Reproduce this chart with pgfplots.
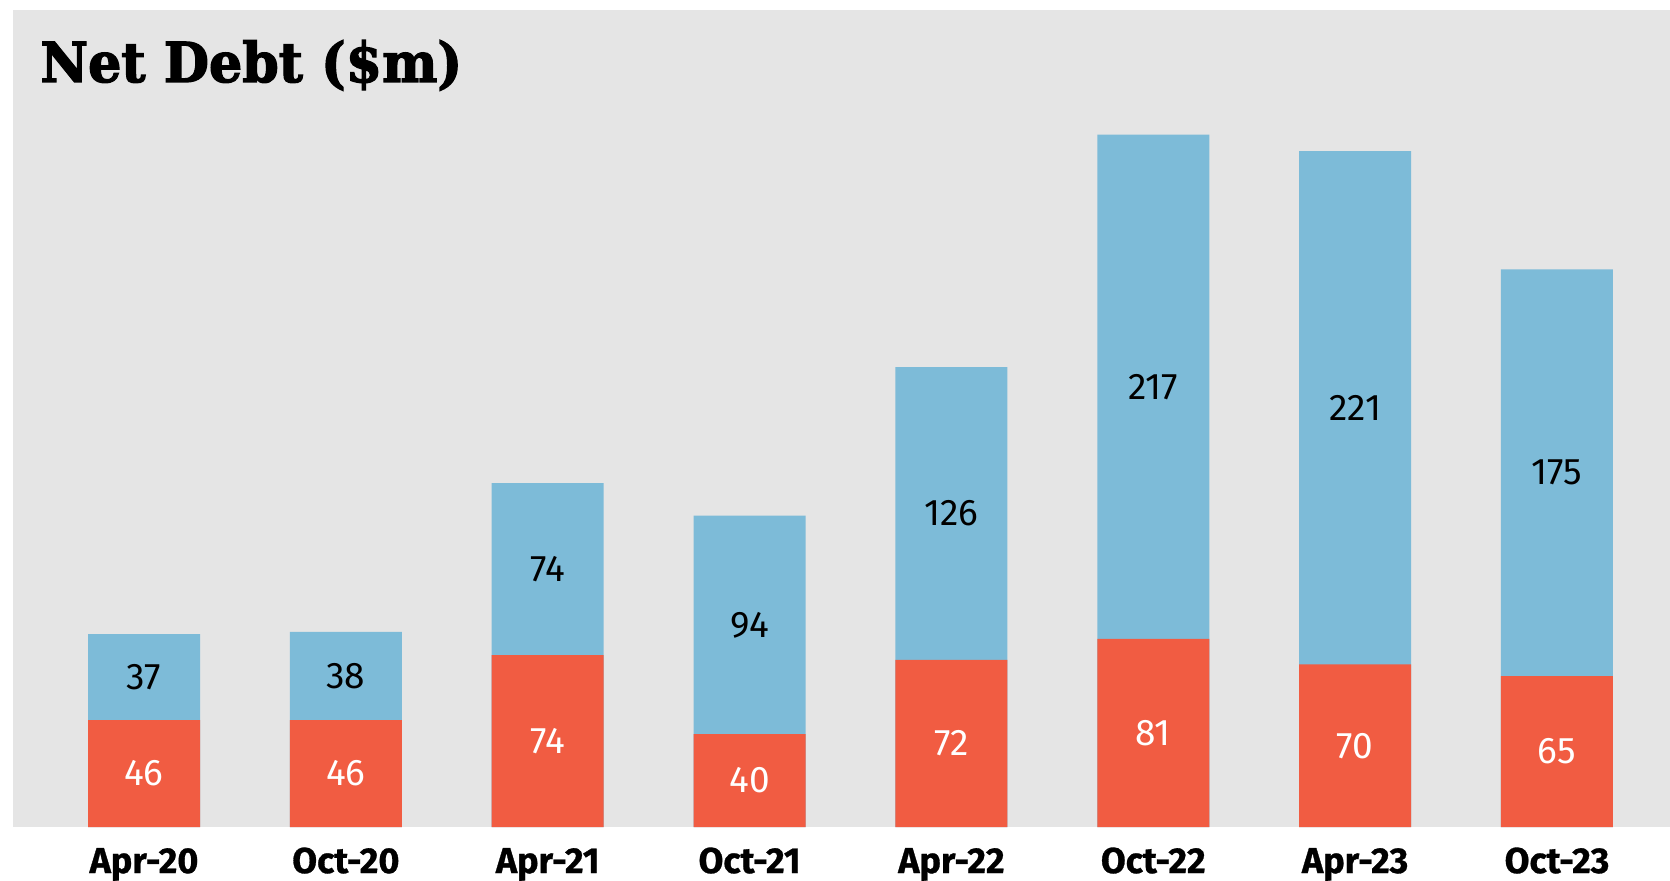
\documentclass[border=0pt]{standalone}
\usepackage{pgfplots}
\usepackage{pgfplotstable}
\usepackage{graphicx}
\pgfplotsset{compat=1.18}
\usepackage{fontspec}
\setmainfont{Fira Sans}
\font\titlef="DejaVu Serif/B:embolden=2.5" at 27.5pt
\font\tickf="Fira Sans/B:embolden=0.8" at 18pt
\definecolor{bg}{RGB}{229,229,229}
\definecolor{dblue}{RGB}{125,187,216}
\definecolor{dred}{RGB}{241,92,66}

\pgfplotstableread{
x red blue
0 46 37
1 46 38
2 74 74
3 40 94
4 72 126
5 81 217
6 70 221
7 65 175
}\debt

\begin{document}
\begin{tikzpicture}[x=1pt,y=1pt]
\useasboundingbox (0,0) rectangle (835,440);
\begin{axis}[at={(6.5pt,26.5pt)}, anchor=south west, scale only axis,
  width=828.5pt, height=408.5pt,
  xmin=-0.649, xmax=7.56, ymin=0, ymax=351.7,
  axis line style={draw=none},
  axis background/.style={fill=bg},
  ytick=\empty,
  xtick={0,...,7},
  xticklabels={Apr-20,Oct-20,Apr-21,Oct-21,Apr-22,Oct-22,Apr-23,Oct-23},
  major tick length=0pt,
  xticklabel style={font=\tickf, anchor=base, yshift=-23pt},
  bar width=56pt,
  clip=false]
\addplot[ybar, bar shift=0pt, fill=dblue, draw=none] table[x=x, y expr=\thisrow{red}+\thisrow{blue}] {\debt};
\addplot[ybar, bar shift=0pt, fill=dred, draw=none] table[x=x, y=red] {\debt};
\addplot[only marks, mark=none, nodes near coords, point meta=explicit symbolic,
  nodes near coords style={anchor=center, text=white, font=\fontsize{18.5}{20}\selectfont}]
  table[x=x, y expr=\thisrow{red}/2, meta=red] {\debt};
\addplot[only marks, mark=none, nodes near coords, point meta=explicit symbolic,
  nodes near coords style={anchor=center, text=black, font=\fontsize{18.5}{20}\selectfont}]
  table[x=x, y expr=\thisrow{red}+\thisrow{blue}/2, meta=blue] {\debt};
\end{axis}
\node[anchor=base west, inner sep=0pt] at (20,399) {\scalebox{0.95}[1]{\titlef Net Debt (\$m)}};
\end{tikzpicture}
\end{document}
